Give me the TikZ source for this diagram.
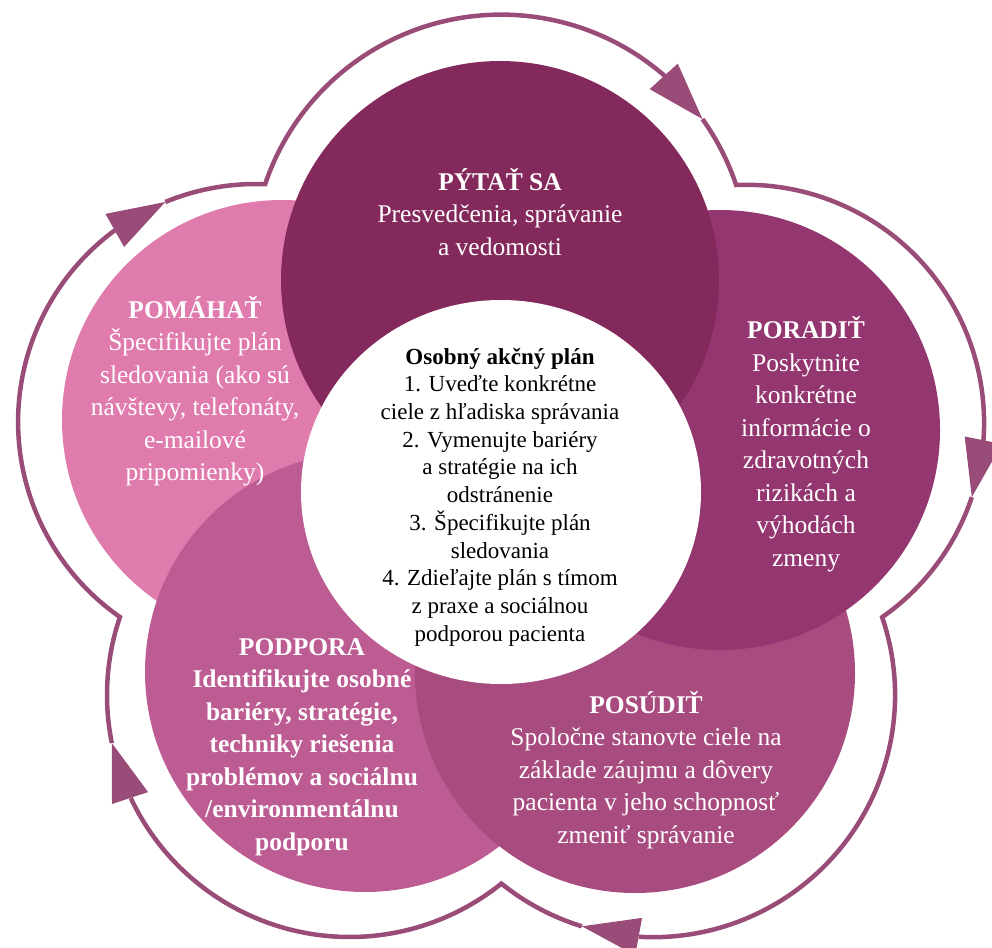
\documentclass[tikz,border=0pt]{standalone}
\usepackage{fontspec}
\setmainfont{Liberation Serif}
\usetikzlibrary{calc,shapes.geometric}
\definecolor{cTop}{HTML}{84295B}
\definecolor{cRight}{HTML}{943670}
\definecolor{cBR}{HTML}{A84C7F}
\definecolor{cBL}{HTML}{BD5C92}
\definecolor{cLeft}{HTML}{E07BAD}
\definecolor{cRing}{HTML}{9A4C79}
\begin{document}
\begin{tikzpicture}[x=1pt,y=1pt,
  petal/.style={circle, inner sep=0pt, draw=none, minimum size=440pt},
  ringline/.style={draw=cRing, line width=4.5pt},
  headfill/.style={fill=cRing},
  maintxt/.style={text=white, align=center, inner sep=0pt, font=\fontsize{25.5}{32.5}\selectfont},
  centertxt/.style={text=black, align=center, inner sep=0pt, font=\fontsize{23}{27.7}\selectfont}]
\useasboundingbox (0,0) rectangle (992,-947);
% petals, back to front
\node[petal, fill=cLeft]  (pL)  at (282,-420) {};
\node[petal, fill=cBL]    (pBL) at (365,-672) {};
\node[petal, fill=cBR]    (pBR) at (635,-673) {};
\node[petal, fill=cRight] (pR)  at (720,-430) {};
\node[petal, fill=cTop, minimum size=438pt] (pT) at (500,-280) {};
\node[ellipse, inner sep=0pt, fill=white, minimum width=400pt, minimum height=384pt] (pC) at (501,-492) {};
% ring arc centres
\coordinate (oT)  at (500,-264);
\coordinate (oR)  at (746,-422);
\coordinate (oBR) at (653,-695);
\coordinate (oBL) at (349,-695);
\coordinate (oL)  at (256,-422);
% arrow bases and tips
\coordinate (bT)  at ($(oT)+(48.9:249)$);
\coordinate (hT)  at ($(oT)+(35.6:249)$);
\coordinate (bR)  at ($(oR)+(-4.4:238)$);
\coordinate (hR)  at ($(oR)+(-18.4:238)$);
\coordinate (bBR) at ($(oBR)+(-93.4:242)$);
\coordinate (hBR) at ($(oBR)+(-107.1:242)$);
\coordinate (bBL) at ($(oBL)+(-154.8:242)$);
\coordinate (hBL) at ($(oBL)+(-168.55:242)$);
\coordinate (bL)  at ($(oL)+(126.4:238)$);
\coordinate (hL)  at ($(oL)+(112.4:238)$);
% ring segments
\draw[ringline] (hT) arc[start angle=35.6, end angle=18.5, radius=249]
  arc[start angle=92.4, end angle=-4.4, radius=238];
\draw[ringline] (hR) arc[start angle=-18.4, end angle=-55.1, radius=238]
  arc[start angle=18.8, end angle=-93.4, radius=242];
\draw[ringline] (hBR) arc[start angle=-107.1, end angle=-128.8, radius=242]
  arc[start angle=-51.2, end angle=-154.8, radius=242];
\draw[ringline] (hBL) arc[start angle=-168.55, end angle=-198.8, radius=242]
  arc[start angle=235.1, end angle=126.4, radius=238];
\draw[ringline] (hL) arc[start angle=112.4, end angle=87.8, radius=238]
  arc[start angle=161.4, end angle=48.9, radius=249];
% arrowheads
\foreach \b/\h in {bT/hT, bR/hR, bBR/hBR, bBL/hBL, bL/hL}{
  \fill[headfill] ($(\b)!19pt!90:(\h)$) -- (\h) -- ($(\b)!19pt!-90:(\h)$) -- cycle;
}
% texts
\node[maintxt] (tTop) at (500,-212) {\textbf{PÝTAŤ SA}\\Presvedčenia, správanie\\a vedomosti};
\node[maintxt] (tLeft) at (195,-391) {\textbf{POMÁHAŤ}\\Špecifikujte plán\\sledovania (ako sú\\návštevy, telefonáty,\\e-mailové\\pripomienky)};
\node[maintxt] (tRight) at (806,-444) {\textbf{PORADIŤ}\\Poskytnite\\konkrétne\\informácie o\\zdravotných\\rizikách a\\výhodách\\zmeny};
\node[maintxt, font=\fontsize{25.5}{32.5}\selectfont\bfseries] (tBL) at (302,-747) {PODPORA\\Identifikujte osobné\\bariéry, stratégie,\\techniky riešenia\\problémov a sociálnu\\/environmentálnu\\podporu};
\node[maintxt] (tBR) at (646,-770) {\textbf{POSÚDIŤ}\\Spoločne stanovte ciele na\\základe záujmu a dôvery\\pacienta v jeho schopnosť\\zmeniť správanie};
\node[centertxt] (tC) at (500,-497) {\textbf{Osobný akčný plán}\\1. Uveďte konkrétne\\ciele z hľadiska správania\\2. Vymenujte bariéry\\a stratégie na ich\\odstránenie\\3. Špecifikujte plán\\sledovania\\4. Zdieľajte plán s tímom\\z praxe a sociálnou\\podporou pacienta};
\end{tikzpicture}
\end{document}
